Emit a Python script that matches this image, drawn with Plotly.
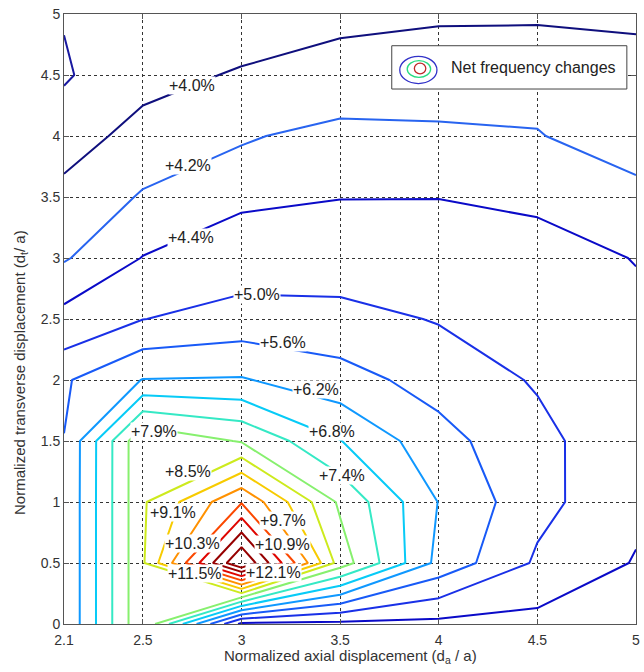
import plotly.graph_objects as go

# ---- data ----
x_vals = [2.1, 2.5, 3.0, 3.5, 4.0, 4.5, 5.0]
y_vals = [0, 0.5, 1, 1.5, 2, 2.5, 3, 3.5, 4, 4.5, 5]

# net frequency change (%) at grid nodes, one row per y value
z_y00 = [5.62, 8.53, 4.25, 4.25, 4.25, 4.22, 4.22]
z_y05 = [5.62, 8.53, 12.85, 8.32, 6.02, 4.91, 4.36]
z_y10 = [5.62, 8.53, 10.35, 7.89, 6.18, 5.18, 4.54]
z_y15 = [5.61, 8.53, 7.95, 6.82, 5.80, 5.175, 4.55]
z_y20 = [5.53, 6.22, 6.25, 5.82, 5.38, 4.94, 4.60]
z_y25 = [4.47, 4.99, 5.23, 5.21, 4.96, 4.80, 4.50]
z_y30 = [4.18, 4.407, 4.66, 4.63, 4.70, 4.58, 4.384]
z_y35 = [4.08, 4.215, 4.31, 4.39, 4.39, 4.31, 4.29]
z_y40 = [3.87, 4.10, 4.18, 4.26, 4.25, 4.215, 4.04]
z_y45 = [3.785, 3.90, 4.03, 4.05, 4.04, 4.09, 4.02]
z_y50 = [3.808, 3.90, 3.82, 3.967, 3.99, 3.98, 3.99]
z_rows = [z_y00, z_y05, z_y10, z_y15, z_y20, z_y25, z_y30, z_y35, z_y40, z_y45, z_y50]

x_ticks = [2.1, 2.5, 3, 3.5, 4, 4.5, 5]
x_ticktext = ["2.1", "2.5", "3", "3.5", "4", "4.5", "5"]
y_ticks = [0, 0.5, 1, 1.5, 2, 2.5, 3, 3.5, 4, 4.5, 5]
y_ticktext = ["0", "0.5", "1", "1.5", "2", "2.5", "3", "3.5", "4", "4.5", "5"]

label_text = ["+4.0%", "+4.2%", "+4.4%", "+5.0%", "+5.6%", "+6.2%", "+6.8%", "+7.4%",
              "+7.9%", "+8.5%", "+9.1%", "+9.7%", "+10.3%", "+10.9%", "+11.5%", "+12.1%"]
label_x = [2.75, 2.73, 2.745, 3.08, 3.21, 3.38, 3.46, 3.51,
           2.555, 2.73, 2.655, 3.21, 2.75, 3.21, 2.765, 3.16]
label_y = [4.41, 3.76, 3.17, 2.70, 2.31, 1.92, 1.58, 1.22,
           1.58, 1.25, 0.91, 0.85, 0.66, 0.65, 0.415, 0.42]

# contour levels (main set) and their line colours (jet-like)
main_levels = [4.4, 5.0, 5.6, 6.2, 6.8, 7.4, 8.0, 8.6, 9.2, 9.8, 10.4, 11.0, 11.6, 12.2]
main_colors = ["rgb(10,10,200)", "rgb(25,45,230)", "rgb(25,80,245)", "rgb(20,140,255)",
               "rgb(0,190,255)", "rgb(20,228,230)", "rgb(100,240,150)", "rgb(170,240,70)",
               "rgb(230,230,0)", "rgb(255,190,0)", "rgb(255,130,0)", "rgb(250,60,0)",
               "rgb(220,0,0)", "rgb(150,0,0)"]
low_levels = [3.8, 4.0, 4.2]
low_colors = ["rgb(25,25,160)", "rgb(15,15,125)", "rgb(40,100,240)"]

FONT = "Liberation Sans, Arial, sans-serif"


def make_scale(levels, colors):
    lo, hi = levels[0], levels[-1]
    return [[(lv - lo) / (hi - lo), c] for lv, c in zip(levels, colors)]


fig = go.Figure()
fig.add_trace(go.Contour(
    x=x_vals, y=y_vals, z=z_rows,
    contours=dict(start=main_levels[0], end=main_levels[-1] + 0.05, size=0.6,
                  coloring="lines", showlabels=False),
    line=dict(width=2, smoothing=0),
    colorscale=make_scale(main_levels, main_colors), zauto=False,
    zmin=main_levels[0], zmax=main_levels[-1],
    showscale=False, hoverinfo="skip", name="Net frequency changes"))
fig.add_trace(go.Contour(
    x=x_vals, y=y_vals, z=z_rows,
    contours=dict(start=low_levels[0], end=low_levels[-1] + 0.05, size=0.2,
                  coloring="lines", showlabels=False),
    line=dict(width=2, smoothing=0),
    colorscale=make_scale(low_levels, low_colors), zauto=False,
    zmin=low_levels[0], zmax=low_levels[-1],
    showscale=False, hoverinfo="skip", showlegend=False))

annotations = []
for t, lx, ly in zip(label_text, label_x, label_y):
    annotations.append(dict(x=lx, y=ly, xref="x", yref="y", text=t, showarrow=False,
                            bgcolor="white", borderpad=0,
                            font=dict(family=FONT, size=16, color="#222")))

# axis titles
annotations.append(dict(x=0.5, y=-0.053, xref="paper", yref="paper",
                        text="Normalized axial displacement (d<sub>a</sub> / a)",
                        showarrow=False, xanchor="center", yanchor="middle",
                        font=dict(family=FONT, size=15, color="#333")))
annotations.append(dict(x=-0.077, y=0.413, xref="paper", yref="paper",
                        text="Normalized transverse displacement (d<sub>t</sub>/ a)",
                        showarrow=False, textangle=-90, xanchor="center", yanchor="middle",
                        font=dict(family=FONT, size=15, color="#333")))
# legend text
annotations.append(dict(x=0.6736, y=0.9115, xref="paper", yref="paper",
                        text="Net frequency changes", showarrow=False,
                        xanchor="left", yanchor="middle",
                        font=dict(family=FONT, size=16, color="#222")))

shapes = [
    dict(type="rect", xref="paper", yref="paper", x0=0.573, x1=0.984, y0=0.877, y1=0.948,
         fillcolor="white", line=dict(color="#444", width=1), layer="above"),
    dict(type="circle", xref="paper", yref="paper", x0=0.587, x1=0.652, y0=0.886, y1=0.9305,
         line=dict(color="rgb(50,50,200)", width=1.3), layer="above"),
    dict(type="circle", xref="paper", yref="paper", x0=0.6, x1=0.641, y0=0.8962, y1=0.9235,
         line=dict(color="rgb(40,220,130)", width=1.3), layer="above"),
    dict(type="circle", xref="paper", yref="paper", x0=0.6125, x1=0.6325, y0=0.902, y1=0.9194,
         line=dict(color="rgb(190,40,40)", width=1.3), layer="above"),
]

axis_common = dict(showgrid=True, gridcolor="#333", griddash="dot", gridwidth=1,
                   zeroline=False, showline=True, linecolor="#555", linewidth=1,
                   mirror="ticks", ticks="inside", ticklen=5, tickcolor="#555",
                   ticklabeloverflow="allow",
                   tickfont=dict(family=FONT, size=14, color="#333"))

fig.update_layout(
    width=644, height=672,
    margin=dict(l=64, r=4, t=14, b=48),
    paper_bgcolor="white", plot_bgcolor="white",
    showlegend=False,
    xaxis=dict(range=[2.1, 5], tickvals=x_ticks, ticktext=x_ticktext,
               ticklabelstandoff=3, **axis_common),
    yaxis=dict(range=[0, 5], tickvals=y_ticks, ticktext=y_ticktext, **axis_common),
    annotations=annotations,
    shapes=shapes,
)

fig.write_html("out.html")
